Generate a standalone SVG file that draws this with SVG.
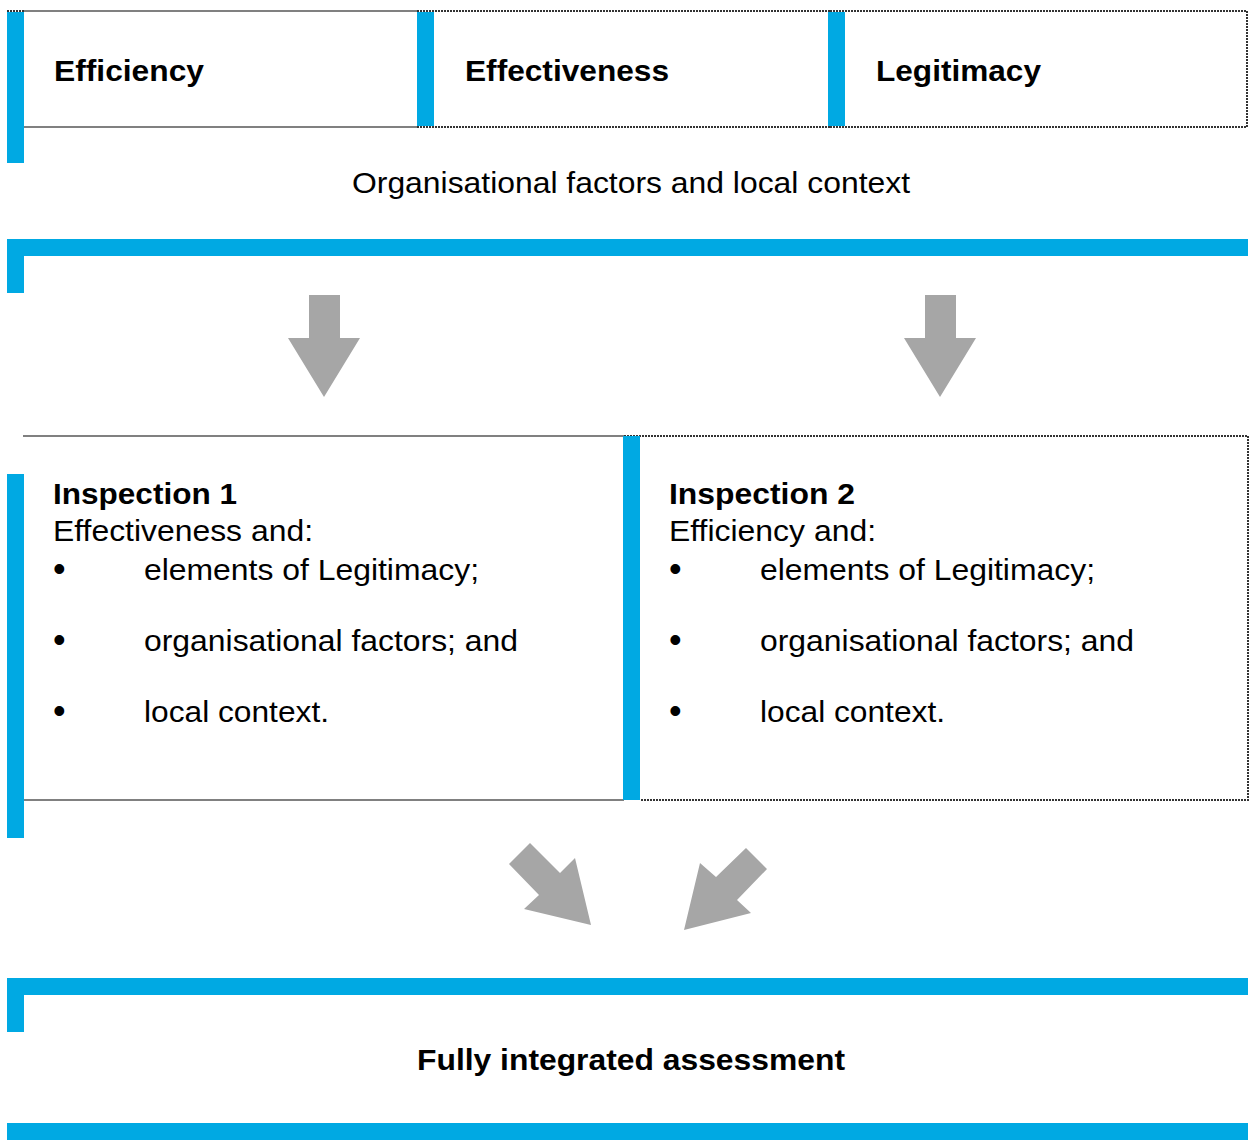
<svg xmlns="http://www.w3.org/2000/svg" width="1250" height="1140" viewBox="0 0 1250 1140">
<style>
  .bar{fill:#00A9E3}
  .solid{stroke:#808080;stroke-width:2;fill:none}
  .dot{stroke:#333;stroke-width:2;stroke-dasharray:2 1;fill:none}
  .t{font-family:"Liberation Sans",Arial,sans-serif;font-size:30px;fill:#000}
  .b{font-weight:bold}
  .bul{font-family:"Liberation Sans",Arial,sans-serif;font-size:36px;fill:#000}
  .arrow{fill:#A6A6A6}
</style>
<rect width="1250" height="1140" fill="#fff"/>

<g id="efficiency">
  <line class="dot" x1="7" y1="11" x2="24" y2="11"/>
  <line class="solid" x1="24" y1="11" x2="417" y2="11"/>
  <line class="solid" x1="24" y1="127" x2="417" y2="127"/>
  <rect class="bar" x="7" y="12" width="17" height="151"/>
  <text class="t b" x="54" y="81" textLength="150" lengthAdjust="spacingAndGlyphs">Efficiency</text>
</g>
<g id="effectiveness">
  <line class="dot" x1="417" y1="11" x2="830" y2="11"/>
  <line class="dot" x1="417" y1="127" x2="830" y2="127"/>
  <rect class="bar" x="417" y="12" width="17" height="114"/>
  <text class="t b" x="465" y="81" textLength="204" lengthAdjust="spacingAndGlyphs">Effectiveness</text>
</g>
<g id="legitimacy">
  <path class="dot" d="M830 11 H1247 V127 H830"/>
  <rect class="bar" x="828" y="12" width="17" height="114"/>
  <text class="t b" x="876" y="81" textLength="165" lengthAdjust="spacingAndGlyphs">Legitimacy</text>
</g>

<g id="context">
  <text class="t" x="352" y="193" textLength="558" lengthAdjust="spacingAndGlyphs">Organisational factors and local context</text>
  <rect class="bar" x="7" y="239" width="1241" height="17"/>
  <rect class="bar" x="7" y="239" width="17" height="54"/>
</g>

<g id="inspection1">
  <line class="solid" x1="23" y1="436" x2="624" y2="436"/>
  <line class="solid" x1="24" y1="800" x2="624" y2="800"/>
  <rect class="bar" x="7" y="474" width="17" height="364"/>
  <text class="t b" x="53" y="504" textLength="184" lengthAdjust="spacingAndGlyphs">Inspection 1</text>
  <text class="t" x="53" y="541" textLength="260" lengthAdjust="spacingAndGlyphs">Effectiveness and:</text>
  <text class="bul" x="53" y="581">•</text>
  <text class="t" x="144" y="580" textLength="335" lengthAdjust="spacingAndGlyphs">elements of Legitimacy;</text>
  <text class="bul" x="53" y="652">•</text>
  <text class="t" x="144" y="651" textLength="374" lengthAdjust="spacingAndGlyphs">organisational factors; and</text>
  <text class="bul" x="53" y="723">•</text>
  <text class="t" x="144" y="722" textLength="185" lengthAdjust="spacingAndGlyphs">local context.</text>
</g>

<g id="inspection2">
  <path class="dot" d="M624 436 H1248 V800 H640"/>
  <rect class="bar" x="623" y="436" width="17" height="364"/>
  <text class="t b" x="669" y="504" textLength="186" lengthAdjust="spacingAndGlyphs">Inspection 2</text>
  <text class="t" x="669" y="541" textLength="207" lengthAdjust="spacingAndGlyphs">Efficiency and:</text>
  <text class="bul" x="669" y="581">•</text>
  <text class="t" x="760" y="580" textLength="335" lengthAdjust="spacingAndGlyphs">elements of Legitimacy;</text>
  <text class="bul" x="669" y="652">•</text>
  <text class="t" x="760" y="651" textLength="374" lengthAdjust="spacingAndGlyphs">organisational factors; and</text>
  <text class="bul" x="669" y="723">•</text>
  <text class="t" x="760" y="722" textLength="185" lengthAdjust="spacingAndGlyphs">local context.</text>
</g>

<g id="assessment">
  <rect class="bar" x="7" y="978" width="1241" height="17"/>
  <rect class="bar" x="7" y="978" width="17" height="54"/>
  <text class="t b" x="417" y="1070" textLength="428" lengthAdjust="spacingAndGlyphs">Fully integrated assessment</text>
  <rect class="bar" x="7" y="1123" width="1241" height="17"/>
</g>

<g id="connectors">
  <polygon class="arrow" points="309,295 340,295 340,338 360,338 324,397 288,338 309,338"/>
  <polygon class="arrow" points="925,295 956,295 956,338 976,338 940,397 904,338 925,338"/>
  <polygon class="arrow" points="530,843 560,873 575,858 591,925 524,909 539,895 509,864"/>
  <polygon class="arrow" points="746,848 767,869 737,900 751,913 684,930 700,863 716,877"/>
</g>
</svg>
